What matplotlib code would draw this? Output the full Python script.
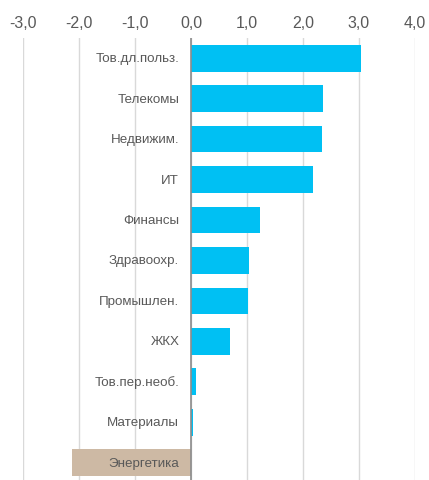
import matplotlib
matplotlib.use("Agg")
import matplotlib.pyplot as plt

plt.rcParams["font.family"] = ["Liberation Sans", "DejaVu Sans"]

# sectors, top to bottom
sectors = ["Тов.дл.польз.", "Телекомы", "Недвижим.", "ИТ", "Финансы",
           "Здравоохр.", "Промышлен.", "ЖКХ", "Тов.пер.необ.", "Материалы",
           "Энергетика"]
values = [3.03, 2.36, 2.34, 2.18, 1.24, 1.04, 1.02, 0.70, 0.09, 0.03, -2.12]
xticks = [-3, -2, -1, 0, 1, 2, 3, 4]

CYAN = "#00C0F3"
TAN = "#CDB9A4"
TEXT = "#595959"

fig = plt.figure(figsize=(4.29, 4.81), dpi=100)
ax = fig.add_axes([23 / 429, 0, (415 - 23) / 429, 1 - 39 / 481])

ypos = list(range(len(sectors)))
colors = [TAN if v < 0 else CYAN for v in values]
ax.barh(ypos, values, height=0.66, color=colors, zorder=2)

for y, name in zip(ypos, sectors):
    ax.text(-0.21, y, name, ha="right", va="center", fontsize=9.6,
            color=TEXT, zorder=3)

ax.set_xlim(-3, 4)
ax.set_ylim(10.43, -0.5)
ax.set_xticks(xticks)
ax.set_xticklabels([f"{t:.1f}".replace(".", ",") for t in xticks],
                   fontsize=11.5, color=TEXT)
ax.xaxis.tick_top()
ax.tick_params(axis="x", length=0, pad=6)
ax.set_yticks([])
ax.grid(axis="x", color="#D9D9D9", linewidth=1, zorder=0)
ax.axvline(0, color="#8C8C8C", linewidth=1.2, zorder=4)
for s in ax.spines.values():
    s.set_visible(False)

fig.savefig("out.png", dpi=100)
